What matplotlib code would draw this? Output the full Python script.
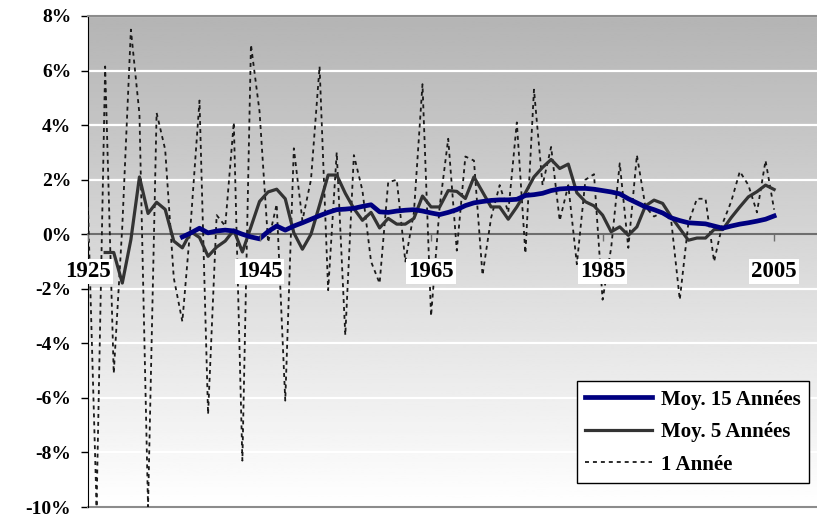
import numpy as np
import matplotlib
matplotlib.use("Agg")
import matplotlib.pyplot as plt

# annees
years = list(range(1925, 2006))

# rendement 1 annee (%)
one_year = [1.0, -10.0, 6.15, -5.1, 0.3, 7.5, 4.4, -10.0, 4.45, 3.1,
            -1.6, -3.2, 0.5, 4.9, -6.6, 0.7, 0.3, 4.1, -8.3, 6.95,
            4.5, -0.3, 1.1, -6.1, 3.15, 0.5, 2.0, 6.15, -2.05, 3.0,
            -3.7, 2.9, 1.6, -1.0, -1.8, 1.9, 2.0, -1.0, 0.8, 5.5,
            -3.0, 1.0, 3.5, -0.6, 2.85, 2.7, -1.5, 0.6, 1.8, 0.8,
            4.1, -0.7, 5.3, 1.8, 3.2, 0.5, 1.8, -1.1, 2.0, 2.2,
            -2.4, -0.5, 2.6, -0.5, 2.9, 1.0, 0.65, 0.8, 0.5, -2.4,
            0.4, 1.3, 1.3, -1.0, 0.4, 1.2, 2.3, 1.8, 0.8, 2.7,
            0.9]

# moyenne 5 annees (1927-2005)
years_5 = list(range(1927, 2006))
avg_5 = [-0.67, -0.67, -1.79, -0.2, 2.1, 0.76, 1.17, 0.91, -0.25, -0.5,
         0.09, -0.12, -0.81, -0.47, -0.25, 0.15, -0.65, 0.27, 1.2, 1.55,
         1.65, 1.3, 0.05, -0.55, 0.0, 1.07, 2.17, 2.17, 1.5, 0.94,
         0.51, 0.8, 0.23, 0.58, 0.37, 0.37, 0.58, 1.4, 1.0, 1.0,
         1.6, 1.57, 1.31, 2.1, 1.55, 1.0, 1.0, 0.55, 1.0, 1.52,
         2.1, 2.45, 2.74, 2.41, 2.57, 1.52, 1.19, 1.04, 0.7, 0.09,
         0.27, -0.04, 0.27, 1.04, 1.25, 1.13, 0.64, 0.21, -0.22, -0.14,
         -0.14, 0.17, 0.17, 0.61, 1.0, 1.37, 1.56, 1.8, 1.64]

# moyenne 15 annees (1936-2005)
years_15 = list(range(1936, 2006))
avg_15 = [-0.1, 0.05, 0.22, 0.05, 0.12, 0.15, 0.12, 0.0, -0.1, -0.17,
          0.1, 0.3, 0.15, 0.3, 0.42, 0.55, 0.68, 0.8, 0.9, 0.92,
          0.95, 1.02, 1.08, 0.82, 0.8, 0.85, 0.88, 0.9, 0.85, 0.78,
          0.72, 0.8, 0.9, 1.05, 1.15, 1.2, 1.24, 1.26, 1.26, 1.28,
          1.42, 1.45, 1.5, 1.6, 1.66, 1.68, 1.68, 1.68, 1.65, 1.6,
          1.55, 1.48, 1.3, 1.15, 1.0, 0.9, 0.78, 0.6, 0.5, 0.42,
          0.4, 0.38, 0.3, 0.22, 0.3, 0.37, 0.42, 0.48, 0.55, 0.67]

yticks = list(range(-10, 9, 2))
xticks = [1925, 1945, 1965, 1985, 2005]

plt.rcParams['font.family'] = ['Liberation Serif', 'DejaVu Serif']
plt.rcParams['font.weight'] = 'bold'

fig = plt.figure(figsize=(8.17, 5.29), dpi=100)
ax = fig.add_axes([88 / 817, 22 / 529, 729 / 817, 491 / 529])

# fond degrade gris -> blanc
grad = np.linspace(0, 1, 256).reshape(-1, 1)
ax.imshow(grad, cmap='gray', vmin=-2.4, vmax=1.0, aspect='auto',
          extent=[1925, 2010, -10, 8], origin='upper', zorder=0)

for v in yticks:
    if v != 0:
        ax.axhline(v, color='white', lw=1.6, zorder=1)

ax.plot(years, one_year, color='#1a1a1a', lw=1.3, linestyle=(0, (2.2, 2.2)),
        label='1 Année', zorder=3)
ax.plot(years_5, avg_5, color='#333333', lw=2.3, label='Moy. 5 Années', zorder=4)
ax.plot(years_15, avg_15, color='#000080', lw=3.4, label='Moy. 15 Années', zorder=5)

ax.set_xlim(1925, 2010)
ax.set_ylim(-10, 8)

ax.spines['right'].set_visible(False)
ax.spines['top'].set_color('#8c8c8c')
ax.spines['top'].set_linewidth(1.5)
ax.spines['left'].set_color('black')
ax.spines['bottom'].set_position(('data', 0))
ax.spines['bottom'].set_color('#6e6e6e')
ax.spines['bottom'].set_linewidth(1.5)
ax.axhline(-10, color='#8c8c8c', lw=1.5, clip_on=False, zorder=2)

ax.set_yticks(yticks)
ax.set_yticklabels([f"{v}%" for v in yticks], fontsize=14, fontweight='bold')
ax.set_xticks(xticks)
ax.set_xticklabels([str(v) for v in xticks], fontsize=16.5, fontweight='bold')
ax.tick_params(axis='y', length=5, width=1, direction='out', pad=7)
ax.tick_params(axis='x', length=5, width=1, direction='out', color='#6e6e6e', pad=14)
for lab in ax.get_xticklabels():
    lab.set_bbox(dict(facecolor='white', edgecolor='none', pad=1.5))
ax.xaxis.set_zorder(6)

handles, labels = ax.get_legend_handles_labels()
leg = ax.legend(handles[::-1], labels[::-1], loc='lower right',
                bbox_to_anchor=(0.989, 0.049), borderaxespad=0, frameon=True,
                fancybox=False, framealpha=1, edgecolor='black',
                handlelength=3.2, handletextpad=0.45, labelspacing=0.6,
                borderpad=0.4, prop={'weight': 'bold', 'size': 15})
leg.get_frame().set_linewidth(1.0)
leg.set_zorder(7)

fig.savefig('out.png', dpi=100)
